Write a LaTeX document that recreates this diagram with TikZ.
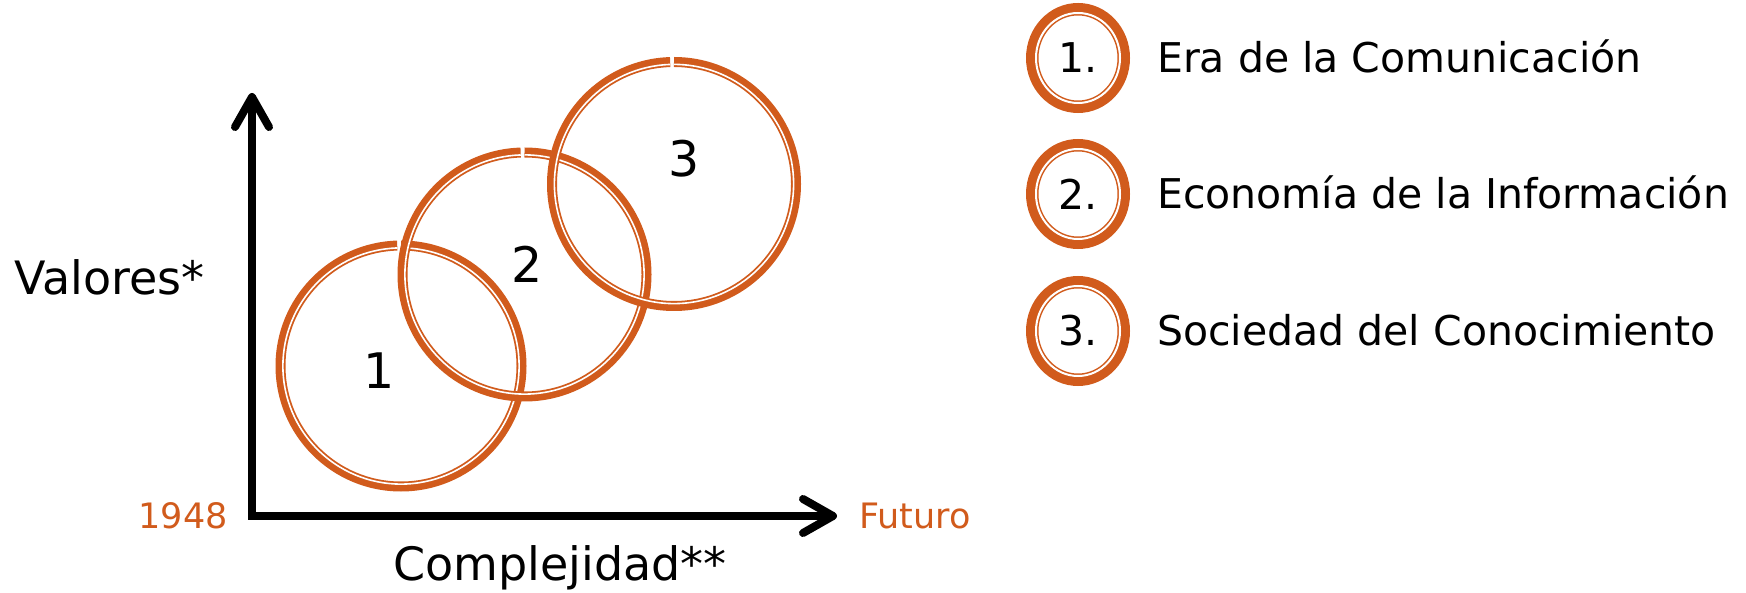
\documentclass[tikz,border=0pt]{standalone}
\usepackage{fontspec}
\setmainfont{DejaVu Sans}
\usetikzlibrary{calc}
\definecolor{rust}{RGB}{209,91,28}

% A stage ring: thick outer band, thin white gap, thin inner line,
% with a small break near the top. #1 = centre, #2 = outer radius.
\newcommand{\stagering}[2]{%
  \pgfmathsetmacro{\ringouter}{#2-5}%
  \pgfmathsetmacro{\ringgap}{#2-7.4}%
  \draw[ringthick] (#1) ++(270:\ringouter) arc[start angle=270, end angle=628.2, radius=\ringouter];
  \draw[ringthin] (#1) ++(270:\ringgap) arc[start angle=270, end angle=628.2, radius=\ringgap];
}
% Legend badge: same ring look on a slightly taller ellipse.
\newcommand{\keyring}[1]{%
  \draw[keythick] (#1) ellipse[x radius=45.75, y radius=48.75];
  \draw[keythin] (#1) ellipse[x radius=42, y radius=45];
}

\begin{document}
\begin{tikzpicture}[x=1pt,y=-1pt,
  axis/.style={line width=8pt, black, line join=miter},
  barb/.style={line width=8pt, black, line cap=round, line join=round},
  ringthick/.style={draw=rust, line width=10pt},
  ringthin/.style={draw=white, line width=1.6pt},
  keythick/.style={draw=rust, line width=12.5pt},
  keythin/.style={draw=white, line width=2pt},
  axislabel/.style={inner sep=0pt, font=\fontsize{46}{55}\selectfont},
  yearlabel/.style={inner sep=0pt, text=rust, font=\fontsize{35}{42}\selectfont},
  stagenum/.style={inner sep=0pt, font=\fontsize{49}{59}\selectfont},
  keynum/.style={inner sep=0pt, font=\fontsize{41}{49}\selectfont},
  keytext/.style={inner sep=0pt, anchor=base west, font=\fontsize{41}{49}\selectfont},
]
\useasboundingbox (0,0) rectangle (1746,593);

% axes
\coordinate (origin) at (252,516);
\coordinate (ytip) at (252,97);
\coordinate (xtip) at (833,516);
\draw[axis] (ytip) -- (origin) -- (xtip);
\draw[barb] ($(ytip)+(-17,30)$) -- (ytip) -- ($(ytip)+(17,30)$);
\draw[barb] ($(xtip)+(-30,-17)$) -- (xtip) -- ($(xtip)+(-30,17)$);

\node[axislabel, anchor=base west] (vlabel) at (14,295) {Valores*};
\node[axislabel, anchor=base] (hlabel) at (560,580) {Complejidad**};
\node[yearlabel, anchor=base east] (startyear) at (228,528) {1948};
\node[yearlabel, anchor=base west] (future) at (859,528) {Futuro};

% overlapping stages
\coordinate (c1) at (401,366);
\coordinate (c2) at (524.5,274.5);
\coordinate (c3) at (674,184);
\stagering{c1}{125.5}
\stagering{c2}{127}
\stagering{c3}{127}
\node[stagenum] (n1) at (378.6,371) {1};
\node[stagenum] (n2) at (526.7,264) {2};
\node[stagenum] (n3) at (683.7,159) {3};

% legend
\coordinate (k1) at (1078,58);
\coordinate (k2) at (1078,194);
\coordinate (k3) at (1078,331);
\keyring{k1}
\keyring{k2}
\keyring{k3}
\node[keynum] (kn1) at (k1) {1.};
\node[keynum] (kn2) at (k2) {2.};
\node[keynum] (kn3) at (k3) {3.};
\node[keytext] (kt1) at (1157,73) {Era de la Comunicación};
\node[keytext] (kt2) at (1157,209) {Economía de la Información};
\node[keytext] (kt3) at (1157,346) {Sociedad del Conocimiento};
\end{tikzpicture}
\end{document}
